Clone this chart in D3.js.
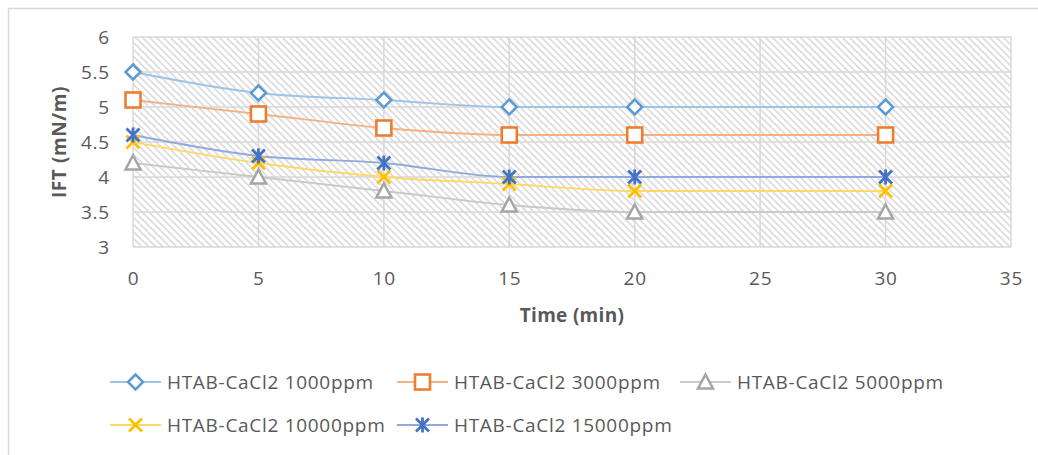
<!DOCTYPE html>
<html><head><meta charset="utf-8">
<script src="https://cdn.jsdelivr.net/npm/d3@7"></script>
<style>html,body{margin:0;padding:0;background:#fff;}svg{display:block;font-family:"Open Sans",Lato,sans-serif;}</style>
</head><body>
<svg id="c" width="1038" height="455"></svg>
<script>
const times = [0, 5, 10, 15, 20, 30];
const seriesNames = ["HTAB-CaCl2 1000ppm","HTAB-CaCl2 3000ppm","HTAB-CaCl2 5000ppm","HTAB-CaCl2 10000ppm","HTAB-CaCl2 15000ppm"];
const ift1000 = [5.5, 5.2, 5.1, 5.0, 5.0, 5.0];
const ift3000 = [5.1, 4.9, 4.7, 4.6, 4.6, 4.6];
const ift5000 = [4.2, 4.0, 3.8, 3.6, 3.5, 3.5];
const ift10000 = [4.5, 4.2, 4.0, 3.9, 3.8, 3.8];
const ift15000 = [4.6, 4.3, 4.2, 4.0, 4.0, 4.0];
const xTicks = [0, 5, 10, 15, 20, 25, 30, 35];
const yTicks = [3, 3.5, 4, 4.5, 5, 5.5, 6];

const FONT = "'Open Sans',Lato,sans-serif";
const colors = ["#5B9BD5","#ED7D31","#A5A5A5","#FFC000","#4472C4"];
const lineColors = ["#9DC3E6","#F4B183","#C9C9C9","#FFD966","#8FAADC"];
const markers = ["diamond","square","triangle","x","star"];
const allValues = [ift1000, ift3000, ift5000, ift10000, ift15000];

const svg = d3.select("#c");
svg.append("rect").attr("x",8.5).attr("y",8.5).attr("width",1100).attr("height",500)
  .attr("fill","#fff").attr("stroke","#d9d9d9").attr("stroke-width",1.5);

const x = d3.scaleLinear().domain([0,35]).range([133,1011]);
const y = d3.scaleLinear().domain([3,6]).range([247,37]);

const defs = svg.append("defs");
const pat = defs.append("pattern").attr("id","hatch").attr("patternUnits","userSpaceOnUse")
  .attr("width",7).attr("height",7);
pat.append("rect").attr("width",7).attr("height",7).attr("fill","#fff");
pat.append("path").attr("d","M-1,-1 L8,8 M-1,6 L1,8 M6,-1 L8,1").attr("stroke","#dcdcdc").attr("stroke-width",1.6);

svg.append("rect").attr("x",x(0)).attr("y",y(6)).attr("width",x(35)-x(0)).attr("height",y(3)-y(6))
  .attr("fill","url(#hatch)");

const g = svg.append("g");
g.selectAll(".hg").data(yTicks).join("line").attr("x1",x(0)).attr("x2",x(35))
  .attr("y1",d=>y(d)).attr("y2",d=>y(d)).attr("stroke","#d9d9d9").attr("stroke-width",1.5);
g.selectAll(".vg").data(xTicks).join("line").attr("y1",y(3)).attr("y2",y(6))
  .attr("x1",d=>x(d)).attr("x2",d=>x(d)).attr("stroke","#d9d9d9").attr("stroke-width",1.5);

const xAxis = d3.axisBottom(x).tickValues(xTicks).tickSize(0).tickPadding(23).tickFormat(d3.format("d"));
const yAxis = d3.axisLeft(y).tickValues(yTicks).tickSize(0).tickPadding(23).tickFormat(d=>String(d));
const xa = svg.append("g").attr("transform",`translate(0,${y(3)})`).call(xAxis);
const ya = svg.append("g").attr("transform",`translate(${x(0)},0)`).call(yAxis);
[xa,ya].forEach(a=>{a.select(".domain").remove();a.selectAll("text").attr("fill","#595959").attr("font-size",19).attr("letter-spacing",0.8).attr("font-family",FONT);});
xa.selectAll("text").attr("dy","0.35em").attr("y",31);

svg.append("text").attr("x",572).attr("y",315).attr("dy","0.35em").attr("text-anchor","middle")
  .attr("font-family",FONT).attr("font-weight","bold").attr("font-size",19).attr("letter-spacing",0.3).attr("fill","#595959").text("Time (min)");
svg.append("text").attr("transform",`translate(66,${y(4.5)}) rotate(-90)`).attr("text-anchor","middle")
  .attr("font-family",FONT).attr("font-weight","bold").attr("font-size",19).attr("letter-spacing",0.6).attr("fill","#595959").text("IFT (mN/m)");

function drawMarker(sel, type, color, cx, cy){
  const s = sel.append("g").attr("transform",`translate(${cx},${cy})`);
  if(type==="diamond"){
    s.append("path").attr("d","M0,-7.5 L7.5,0 L0,7.5 L-7.5,0 Z").attr("fill","#fff").attr("stroke",color).attr("stroke-width",2.5);
  } else if(type==="square"){
    s.append("rect").attr("x",-7.5).attr("y",-7.5).attr("width",15).attr("height",15).attr("fill","#fff").attr("stroke",color).attr("stroke-width",2.6);
  } else if(type==="triangle"){
    s.append("path").attr("d","M0,-7.5 L7.5,6.5 L-7.5,6.5 Z").attr("fill","#fff").attr("stroke",color).attr("stroke-width",2.5);
  } else if(type==="x"){
    s.append("path").attr("d","M-6.5,-6.5 L6.5,6.5 M-6.5,6.5 L6.5,-6.5").attr("stroke",color).attr("stroke-width",2.8);
  } else if(type==="star"){
    s.append("path").attr("d","M-6.5,-6.5 L6.5,6.5 M-6.5,6.5 L6.5,-6.5 M0,-7.5 L0,7.5").attr("stroke",color).attr("stroke-width",2.8);
  }
}

const line = d3.line().x((d,i)=>x(times[i])).y(d=>y(d)).curve(d3.curveMonotoneX);
const order = [2,3,4,1,0];
order.forEach(si=>{
  svg.append("path").datum(allValues[si]).attr("d",line).attr("fill","none")
    .attr("stroke",lineColors[si]).attr("stroke-width",1.8);
});
order.forEach(si=>{
  const mg = svg.append("g");
  allValues[si].forEach((v,i)=>drawMarker(mg, markers[si], colors[si], x(times[i]), y(v)));
});

const legendPos = [[110,382],[397,382],[680,382],[110,425],[397,425]];
seriesNames.forEach((name,i)=>{
  const [lx,ly] = legendPos[i];
  const lg = svg.append("g");
  lg.append("line").attr("x1",lx).attr("x2",lx+51).attr("y1",ly).attr("y2",ly).attr("stroke",lineColors[i]).attr("stroke-width",1.8);
  drawMarker(lg, markers[i], colors[i], lx+25.5, ly);
  lg.append("text").attr("x",lx+57).attr("y",ly).attr("dy","0.35em").attr("font-family",FONT).attr("font-size",19).attr("letter-spacing",0.7).attr("fill","#595959").text(name);
});
</script>
</body></html>
